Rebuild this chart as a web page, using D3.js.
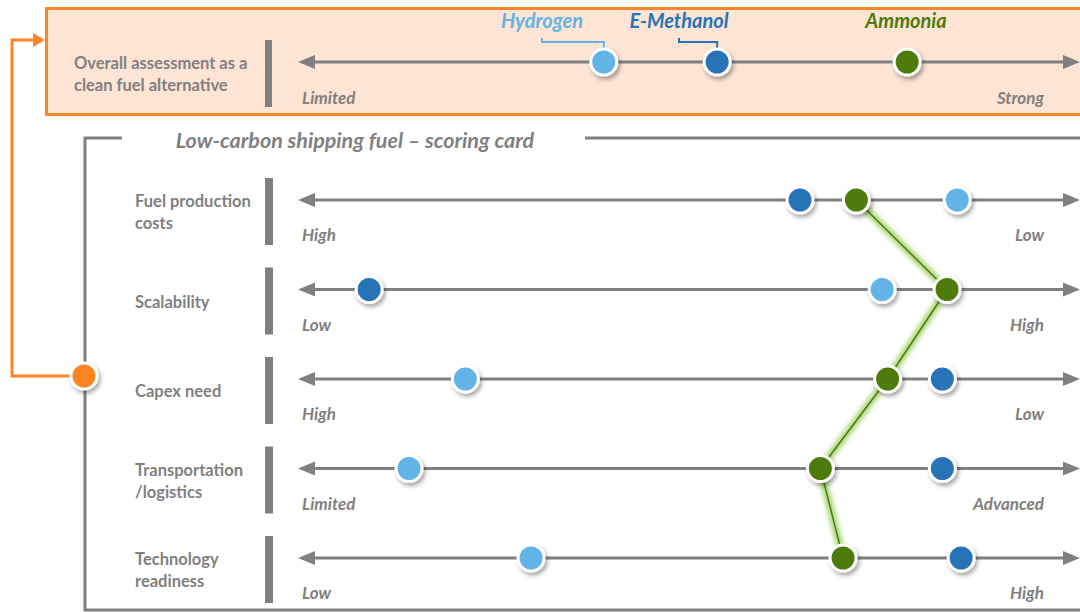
<!DOCTYPE html>
<html lang="en">
<head>
<meta charset="UTF-8" />
<title>Low-carbon shipping fuel - scoring card</title>
<script src="https://d3js.org/d3.v7.min.js"></script>
<style>
    body { margin: 0; background: #fff; }
    text { font-family: Lato, "Open Sans", sans-serif; font-weight: bold; }
</style>
</head>
<body>
<svg id="chart" width="1080" height="612"></svg>
<script>
    // Fuels and colours
    const fuels = ["Hydrogen", "E-Methanol", "Ammonia"];
    const fuelColors = ["#62b4e6", "#2673b8", "#4e7b0b"];

    // Overall assessment (0 = Limited, 100 = Strong)
    const overallScores = [39.1, 53.6, 77.9];
    const overallEnds = ["Limited", "Strong"];

    // Scoring card criteria
    const criteria = ["Fuel production costs", "Scalability", "Capex need", "Transportation /logistics", "Technology readiness"];
    const criteriaLines = [["Fuel production", "costs"], ["Scalability"], ["Capex need"], ["Transportation", "/logistics"], ["Technology", "readiness"]];
    const leftEnds = ["High", "Low", "High", "Limited", "Low"];
    const rightEnds = ["Low", "High", "Low", "Advanced", "High"];
    const hydrogenScores = [84.3, 74.7, 21.4, 14.2, 29.8];
    const methanolScores = [64.2, 9.1, 82.4, 82.4, 84.8];
    const ammoniaScores = [71.4, 83.0, 75.4, 66.8, 69.7];

    const gray = "#808080";
    const orange = "#f8862c";

    const svg = d3.select("#chart");

    const defs = svg.append("defs");
    const shadow = defs.append("filter").attr("id", "shadow")
        .attr("x", "-50%").attr("y", "-50%").attr("width", "200%").attr("height", "200%");
    shadow.append("feDropShadow")
        .attr("dx", 2).attr("dy", 3).attr("stdDeviation", 2)
        .attr("flood-color", "#000").attr("flood-opacity", 0.35);
    const glow = defs.append("filter").attr("id", "glow")
        .attr("x", "-50%").attr("y", "-50%").attr("width", "200%").attr("height", "200%");
    glow.append("feGaussianBlur").attr("stdDeviation", 2);

    const x = d3.scaleLinear().domain([0, 100]).range([298, 1080]);
    const rowY = d3.scalePoint().domain(criteria).range([200, 558]);
    const color = d3.scaleOrdinal().domain(fuels).range(fuelColors);

    // double headed axis line
    function drawAxis(g, y) {
        const [x0, x1] = x.range();
        g.append("line")
            .attr("x1", x0 + 10).attr("x2", x1 - 10)
            .attr("y1", y).attr("y2", y)
            .attr("stroke", gray).attr("stroke-width", 3);
        g.append("path")
            .attr("d", `M${x0},${y} L${x0 + 17},${y - 7} L${x0 + 17},${y + 7} Z`)
            .attr("fill", gray);
        g.append("path")
            .attr("d", `M${x1},${y} L${x1 - 17},${y - 7} L${x1 - 17},${y + 7} Z`)
            .attr("fill", gray);
    }

    function drawEnds(g, y, left, right) {
        g.append("text").attr("x", 302).attr("y", y + 41)
            .attr("font-size", 17).attr("font-style", "italic")
            .attr("fill", gray).text(left);
        g.append("text").attr("x", 1044).attr("y", y + 41)
            .attr("text-anchor", "end")
            .attr("font-size", 17).attr("font-style", "italic")
            .attr("fill", gray).text(right);
    }

    function drawDot(g, cx, cy, fill) {
        g.append("circle")
            .attr("cx", cx).attr("cy", cy).attr("r", 13)
            .attr("fill", fill)
            .attr("stroke", "#fff").attr("stroke-width", 3)
            .attr("filter", "url(#shadow)");
    }

    function drawLabel(g, lines, lx, y) {
        const t = g.append("text")
            .attr("x", lx).attr("y", y)
            .attr("font-size", 16.5).attr("fill", gray);
        lines.forEach((l, i) => {
            t.append("tspan").attr("x", lx).attr("dy", i === 0 ? 0 : 22).text(l);
        });
        return t;
    }

    // ---- Overall assessment box ----
    svg.append("rect")
        .attr("x", 46.5).attr("y", 8.5)
        .attr("width", 1100).attr("height", 106)
        .attr("fill", "#fde4d4")
        .attr("stroke", orange).attr("stroke-width", 3);

    const topG = svg.append("g");
    const topY = 62;
    topG.append("rect").attr("x", 265).attr("y", 40).attr("width", 7).attr("height", 67).attr("fill", gray);
    drawLabel(topG, ["Overall assessment as a", "clean fuel alternative"], 74, 69);
    drawAxis(topG, topY);
    drawEnds(topG, topY + 1, overallEnds[0], overallEnds[1]);

    // legend names and brackets
    const legendX = [542, 679, 906];
    fuels.forEach((f, i) => {
        topG.append("text")
            .attr("x", legendX[i]).attr("y", 28)
            .attr("text-anchor", "middle")
            .attr("font-size", 20).attr("font-style", "italic")
            .attr("fill", color(f)).text(f);
    });
    [[542, 0], [679, 1]].forEach(([bx, i]) => {
        const dx = x(overallScores[i]);
        topG.append("path")
            .attr("d", `M${bx},38 L${bx},42 L${dx},42 L${dx},48`)
            .attr("fill", "none")
            .attr("stroke", color(fuels[i])).attr("stroke-width", 2);
    });
    fuels.forEach((f, i) => drawDot(topG, x(overallScores[i]), topY, color(f)));

    // ---- Scoring card frame ----
    const frame = svg.append("g");
    frame.append("path")
        .attr("d", "M122,138 L85,138 L85,610 L1080,610")
        .attr("fill", "none").attr("stroke", gray).attr("stroke-width", 3);
    frame.append("line")
        .attr("x1", 585).attr("x2", 1080).attr("y1", 138).attr("y2", 138)
        .attr("stroke", gray).attr("stroke-width", 3);
    frame.append("text")
        .attr("x", 355).attr("y", 148)
        .attr("text-anchor", "middle")
        .attr("font-size", 21.5).attr("font-style", "italic")
        .attr("fill", gray)
        .text("Low-carbon shipping fuel \u2013 scoring card");

    // orange connector
    svg.append("path")
        .attr("d", "M84,376 L12,376 L12,40 L36,40")
        .attr("fill", "none").attr("stroke", orange).attr("stroke-width", 3);
    svg.append("path")
        .attr("d", "M45,40 L33,33 L33,47 Z")
        .attr("fill", orange);

    // rows
    const rows = svg.append("g");
    criteria.forEach((c, i) => {
        const y = rowY(c);
        const g = rows.append("g");
        g.append("rect").attr("x", 265).attr("y", y - 22).attr("width", 8).attr("height", 67).attr("fill", gray);
        const n = criteriaLines[i].length;
        drawLabel(g, criteriaLines[i], 135, n === 1 ? y + 18 : y + 7);
        drawAxis(g, y);
        drawEnds(g, y, leftEnds[i], rightEnds[i]);
    });

    // ammonia connecting line
    const ammoniaLine = d3.line()
        .x(d => x(d.v))
        .y(d => rowY(d.c));
    const ammoniaPts = criteria.map((c, i) => ({ c, v: ammoniaScores[i] }));
    rows.append("path")
        .attr("d", ammoniaLine(ammoniaPts))
        .attr("fill", "none").attr("stroke", "#9bd163").attr("stroke-width", 8)
        .attr("stroke-opacity", 0.8).attr("filter", "url(#glow)");
    rows.append("path")
        .attr("d", ammoniaLine(ammoniaPts))
        .attr("fill", "none").attr("stroke", "#4e7b0b").attr("stroke-width", 1.5);

    // dots
    const scoreSets = [hydrogenScores, methanolScores, ammoniaScores];
    criteria.forEach((c, i) => {
        fuels.forEach((f, j) => drawDot(rows, x(scoreSets[j][i]), rowY(c), color(f)));
    });

    drawDot(svg, 84, 376, "#f98520");
</script>
</body>
</html>
